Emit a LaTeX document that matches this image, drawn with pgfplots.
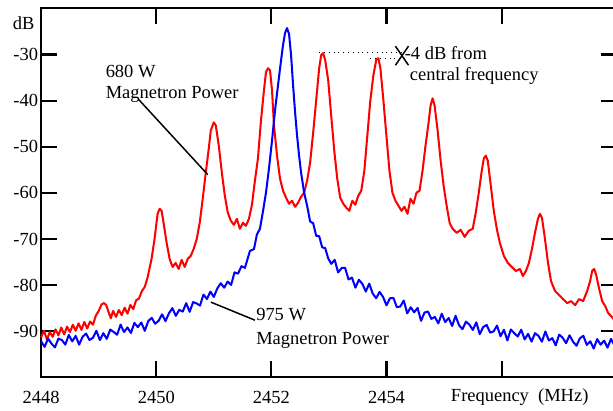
\documentclass[border=0pt]{standalone}
\usepackage{fontspec}
\setmainfont{Liberation Serif}
\usepackage{pgfplots}
\pgfplotsset{compat=1.18}

\begin{document}
\begin{tikzpicture}
\begin{axis}[
    scale only axis, width=311.7pt, height=199.8pt,
    xmin=2448, xmax=2458, ymin=-100, ymax=-20,
    xtick={2448,2450,2452,2454,2456},
    xticklabels={2448,2450,2452,2454,{}},
    ytick={-100,-90,-80,-70,-60,-50,-40,-30,-20},
    yticklabels={{},-90,-80,-70,-60,-50,-40,-30,{}},
    tick align=inside, major tick length=8.7pt,
    tick style={black, line width=1.1pt},
    axis line style={line width=1.1pt},
    xticklabel style={yshift=-4pt},
    yticklabel style={inner xsep=1.5pt},
    font=\fontsize{10}{12}\selectfont,
    clip=false,
]
% 680 W
\addplot[red, line width=1.1pt, line join=round] coordinates {
(2448.00,-91.3) (2448.05,-89.9) (2448.10,-91.8) (2448.15,-90.2)
(2448.20,-91.2) (2448.25,-89.6) (2448.30,-90.9) (2448.35,-89.2)
(2448.40,-90.7) (2448.45,-89.0) (2448.50,-90.2) (2448.55,-88.6)
(2448.60,-89.9) (2448.65,-88.3) (2448.70,-89.7) (2448.75,-88.0)
(2448.80,-89.4) (2448.85,-87.9) (2448.90,-88.6) (2448.95,-86.6)
(2449.00,-85.6) (2449.05,-84.2) (2449.09,-83.9) (2449.13,-84.3)
(2449.17,-85.8) (2449.21,-87.2) (2449.25,-85.6) (2449.30,-86.9)
(2449.35,-85.4) (2449.40,-86.5) (2449.45,-84.9) (2449.50,-86.2)
(2449.55,-84.3) (2449.60,-85.2) (2449.65,-83.3) (2449.70,-82.9)
(2449.75,-81.3) (2449.80,-80.4) (2449.85,-78.3)
(2449.918,-74.33) (2449.970,-69.98)
(2450.023,-64.54) (2450.058,-63.45) (2450.092,-63.89) (2450.127,-66.50)
(2450.180,-70.85) (2450.232,-74.33) (2450.284,-76.07) (2450.337,-75.20)
(2450.389,-76.51) (2450.441,-74.55) (2450.494,-76.07) (2450.546,-74.33)
(2450.598,-73.68) (2450.650,-72.16) (2450.703,-69.98) (2450.755,-66.50)
(2450.807,-61.27) (2450.860,-55.62) (2450.912,-50.39) (2450.947,-46.48)
(2450.999,-44.73) (2451.034,-45.39) (2451.086,-49.74) (2451.139,-55.62)
(2451.191,-60.62) (2451.243,-64.32) (2451.296,-66.06) (2451.348,-66.93)
(2451.400,-65.63) (2451.453,-67.80) (2451.505,-66.50) (2451.557,-67.15)
(2451.610,-65.63) (2451.662,-62.58) (2451.714,-57.36) (2451.766,-52.57)
(2451.819,-44.30) (2451.871,-37.77) (2451.906,-33.85) (2451.941,-32.98)
(2451.976,-33.42) (2452.011,-37.77) (2452.045,-45.39) (2452.098,-51.92)
(2452.150,-56.92) (2452.202,-59.53) (2452.255,-61.06) (2452.307,-62.36)
(2452.359,-61.71) (2452.412,-63.02) (2452.464,-62.14) (2452.516,-60.84)
(2452.569,-59.97) (2452.621,-57.36) (2452.673,-53.44) (2452.726,-46.91)
(2452.778,-39.95) (2452.830,-32.98) (2452.865,-30.15) (2452.900,-29.72)
(2452.935,-31.24) (2452.987,-35.59) (2453.039,-43.21) (2453.092,-50.83)
(2453.144,-56.92) (2453.196,-61.06) (2453.249,-62.36) (2453.301,-63.23)
(2453.353,-63.89) (2453.406,-61.71) (2453.458,-62.58) (2453.510,-60.62)
(2453.562,-59.53) (2453.615,-55.18) (2453.667,-47.56) (2453.719,-39.95)
(2453.772,-34.51) (2453.824,-31.02) (2453.859,-30.81) (2453.894,-32.98)
(2453.946,-39.95) (2453.998,-47.56) (2454.051,-55.18) (2454.103,-59.97)
(2454.155,-61.71) (2454.208,-62.80) (2454.260,-63.89) (2454.312,-63.02)
(2454.365,-64.54) (2454.417,-61.27) (2454.469,-62.36) (2454.521,-59.97)
(2454.574,-59.53) (2454.626,-55.18) (2454.678,-49.74) (2454.731,-44.73)
(2454.766,-41.03) (2454.801,-39.51) (2454.835,-41.03) (2454.888,-46.48)
(2454.940,-53.00) (2454.992,-58.44) (2455.045,-62.80) (2455.097,-66.50)
(2455.149,-67.80) (2455.219,-68.67) (2455.289,-68.02) (2455.358,-69.54)
(2455.428,-68.24) (2455.498,-67.80) (2455.550,-64.32) (2455.603,-59.97)
(2455.655,-55.18) (2455.690,-52.57) (2455.725,-51.92) (2455.759,-53.00)
(2455.812,-58.44) (2455.864,-63.89) (2455.916,-67.80) (2455.969,-70.85)
(2456.039,-73.68) (2456.108,-75.20) (2456.178,-76.07) (2456.248,-76.94)
(2456.317,-76.51) (2456.370,-78.03) (2456.422,-76.94) (2456.474,-75.20)
(2456.527,-72.16) (2456.579,-68.67) (2456.631,-65.63) (2456.666,-64.54)
(2456.701,-65.41) (2456.753,-69.98) (2456.806,-75.20) (2456.858,-79.12)
(2456.928,-81.30) (2456.998,-82.17) (2457.067,-83.04) (2457.137,-83.91)
(2457.207,-83.47) (2457.277,-84.34) (2457.346,-83.04) (2457.416,-83.47)
(2457.486,-81.30) (2457.538,-79.12) (2457.573,-76.94) (2457.608,-76.51)
(2457.643,-77.81) (2457.695,-80.86) (2457.747,-83.47) (2457.800,-84.56)
(2457.852,-86.08) (2457.904,-86.74) (2457.974,-87.83) (2458.000,-88.26)
};
% 975 W
\addplot[blue, line width=1.1pt, line join=round] coordinates {
(2448.00,-92.20) (2448.06,-93.40) (2448.12,-91.60) (2448.18,-92.70)
(2448.24,-93.50) (2448.30,-91.61) (2448.36,-91.91) (2448.42,-92.91)
(2448.48,-90.81) (2448.54,-92.21) (2448.60,-91.01) (2448.66,-92.91)
(2448.72,-91.21) (2448.78,-90.51) (2448.84,-91.91) (2448.90,-91.42)
(2448.96,-89.92) (2449.02,-91.92) (2449.08,-90.44) (2449.14,-91.65)
(2449.20,-89.65) (2449.26,-90.16) (2449.32,-90.77) (2449.38,-88.57)
(2449.44,-90.18) (2449.50,-89.19) (2449.56,-90.39) (2449.62,-88.20)
(2449.68,-89.11) (2449.74,-88.11) (2449.80,-89.92) (2449.86,-87.83)
(2449.92,-87.09) (2449.98,-88.38) (2450.04,-87.76) (2450.10,-86.34)
(2450.16,-87.82) (2450.22,-86.11) (2450.28,-84.99) (2450.34,-86.67)
(2450.40,-85.36) (2450.46,-85.74) (2450.52,-83.92) (2450.58,-85.80)
(2450.64,-83.69) (2450.70,-83.97) (2450.76,-84.45) (2450.82,-82.06)
(2450.88,-83.03) (2450.94,-81.40) (2451.00,-82.57) (2451.06,-80.73)
(2451.12,-79.60) (2451.18,-80.57) (2451.24,-79.24) (2451.30,-79.96)
(2451.36,-77.24) (2451.42,-77.52) (2451.48,-75.90) (2451.54,-76.28)
(2451.627,-72.60) (2451.697,-72.20) (2451.749,-69.00) (2451.801,-67.80)
(2451.854,-64.00) (2451.906,-59.97) (2451.958,-54.75) (2452.011,-48.65)
(2452.063,-42.12) (2452.115,-36.68) (2452.168,-31.24) (2452.202,-27.98)
(2452.237,-25.36) (2452.272,-24.28) (2452.307,-25.58) (2452.342,-30.15)
(2452.377,-36.68) (2452.412,-42.56) (2452.446,-47.56) (2452.481,-51.92)
(2452.516,-55.62) (2452.569,-59.97) (2452.621,-62.80) (2452.673,-66.20)
(2452.726,-66.60) (2452.778,-69.30) (2452.830,-69.40) (2452.882,-71.80)
(2452.935,-72.00) (2452.987,-74.20)
(2453.04,-75.40) (2453.10,-74.53) (2453.16,-77.27) (2453.22,-76.30)
(2453.28,-76.24) (2453.34,-78.77) (2453.40,-78.38) (2453.46,-80.56)
(2453.52,-78.84) (2453.58,-79.72) (2453.64,-81.40) (2453.70,-79.68)
(2453.76,-81.84) (2453.82,-82.85) (2453.88,-81.47) (2453.94,-82.58)
(2454.00,-84.39) (2454.06,-82.86) (2454.12,-82.78) (2454.18,-84.80)
(2454.24,-84.63) (2454.30,-83.35) (2454.36,-86.13) (2454.42,-84.81)
(2454.48,-85.89) (2454.54,-84.97) (2454.60,-87.75) (2454.66,-85.96)
(2454.72,-85.74) (2454.78,-87.33) (2454.84,-86.91) (2454.90,-88.30)
(2454.96,-86.21) (2455.02,-88.03) (2455.08,-87.14) (2455.14,-88.86)
(2455.20,-86.65) (2455.26,-88.71) (2455.32,-89.56) (2455.38,-87.92)
(2455.44,-88.57) (2455.50,-89.73) (2455.56,-88.08) (2455.62,-90.64)
(2455.68,-89.09) (2455.74,-88.64) (2455.80,-90.30) (2455.86,-90.05)
(2455.92,-88.77) (2455.98,-91.09) (2456.04,-89.70) (2456.10,-92.01)
(2456.16,-89.62) (2456.22,-90.43) (2456.28,-91.15) (2456.34,-89.66)
(2456.40,-91.77) (2456.46,-90.58) (2456.52,-92.26) (2456.58,-90.43)
(2456.64,-91.01) (2456.70,-92.28) (2456.76,-90.05) (2456.82,-92.02)
(2456.88,-91.50) (2456.94,-93.07) (2457.00,-90.74) (2457.06,-91.41)
(2457.12,-92.60) (2457.18,-90.88) (2457.24,-92.26) (2457.30,-93.15)
(2457.36,-91.53) (2457.42,-91.01) (2457.48,-92.99) (2457.54,-92.18)
(2457.60,-93.76) (2457.66,-91.71) (2457.72,-92.92) (2457.78,-92.04)
(2457.84,-93.56) (2457.90,-91.67) (2457.96,-93.09) (2458.00,-92.40)
};

% annotations
\node at (axis cs:2447.695,-23.12) {dB};
\node[anchor=base west, inner sep=0pt] at (axis cs:2455.114,-105.24) {Frequency\ \ (MHz)};

\node[anchor=base west, inner sep=0pt] at (axis cs:2449.116,-34.94) {680 W};
\node[anchor=base west, inner sep=0pt] at (axis cs:2449.116,-39.51) {Magnetron Power};
\draw[line width=0.8pt] (axis cs:2449.692,-39.73) -- (axis cs:2450.895,-56.05);

\node[anchor=base west, inner sep=0pt] at (axis cs:2451.731,-87.61) {975 W};
\node[anchor=base west, inner sep=0pt] at (axis cs:2451.731,-92.83) {Magnetron Power};
\draw[line width=0.8pt] (axis cs:2450.947,-83.69) -- (axis cs:2451.714,-87.61);

\draw[dotted, line width=0.6pt] (axis cs:2452.830,-29.50) -- (axis cs:2454.312,-29.50);
\draw[dotted, line width=0.6pt] (axis cs:2453.719,-30.81) -- (axis cs:2454.312,-30.81);
\draw[line width=0.8pt] (axis cs:2454.155,-28.19) -- (axis cs:2454.382,-32.33);
\draw[line width=0.8pt] (axis cs:2454.382,-28.19) -- (axis cs:2454.155,-32.33);
\node[anchor=base west, inner sep=0pt] at (axis cs:2454.312,-31.02) {-4 dB from};
\node[anchor=base west, inner sep=0pt] at (axis cs:2454.400,-35.59) {central frequency};

\coordinate (bl) at (axis cs:2447.285,-107.19);
\coordinate (tr) at (axis cs:2457.935,-18.183);
\end{axis}
\pgfresetboundingbox
\path[use as bounding box] (bl) rectangle (tr);
\end{tikzpicture}
\end{document}
